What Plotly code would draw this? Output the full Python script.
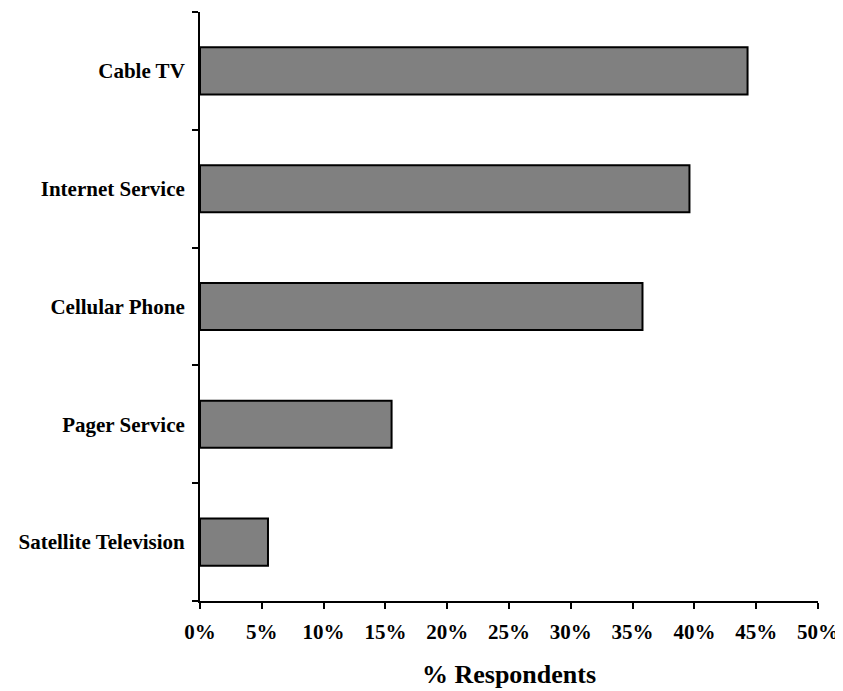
import plotly.graph_objects as go

categories = ["Satellite Television", "Pager Service", "Cellular Phone", "Internet Service", "Cable TV"]
values = [5.5, 15.5, 35.8, 39.6, 44.3]
tick_vals = [0, 5, 10, 15, 20, 25, 30, 35, 40, 45, 50]
tick_text = [f"{v}%" for v in tick_vals]

fig = go.Figure(go.Bar(
    x=values, y=categories, orientation="h",
    marker=dict(color="#808080", line=dict(color="black", width=2)),
    width=0.4,
))

fig.update_layout(
    width=843, height=691,
    margin=dict(l=192, r=33, t=4, b=98),
    plot_bgcolor="white", paper_bgcolor="white",
    showlegend=False,
    font=dict(family="Liberation Serif, Times New Roman, serif", color="black", size=16),
    xaxis=dict(
        range=[0, 50], tickvals=tick_vals, ticktext=[f"<b>{t}</b>" for t in tick_text],
        showgrid=False, zeroline=False, showline=True, linecolor="black", linewidth=2,
        ticks="outside", ticklen=6, tickwidth=2, tickcolor="black",
        tickfont=dict(size=21), ticklabelstandoff=5, automargin=False,
        title=dict(text="<b>% Respondents</b>", font=dict(size=26), standoff=22),
    ),
    yaxis=dict(
        type="category", tickson="boundaries",
        showgrid=False, zeroline=False, showline=True, linecolor="black", linewidth=2,
        ticks="outside", ticklen=6, tickwidth=2, tickcolor="black",
        tickvals=categories, ticktext=[f"<b>{c}</b>" for c in categories],
        tickfont=dict(size=21), ticklabelstandoff=9, automargin=False,
    ),
)

fig.write_html("out.html")
